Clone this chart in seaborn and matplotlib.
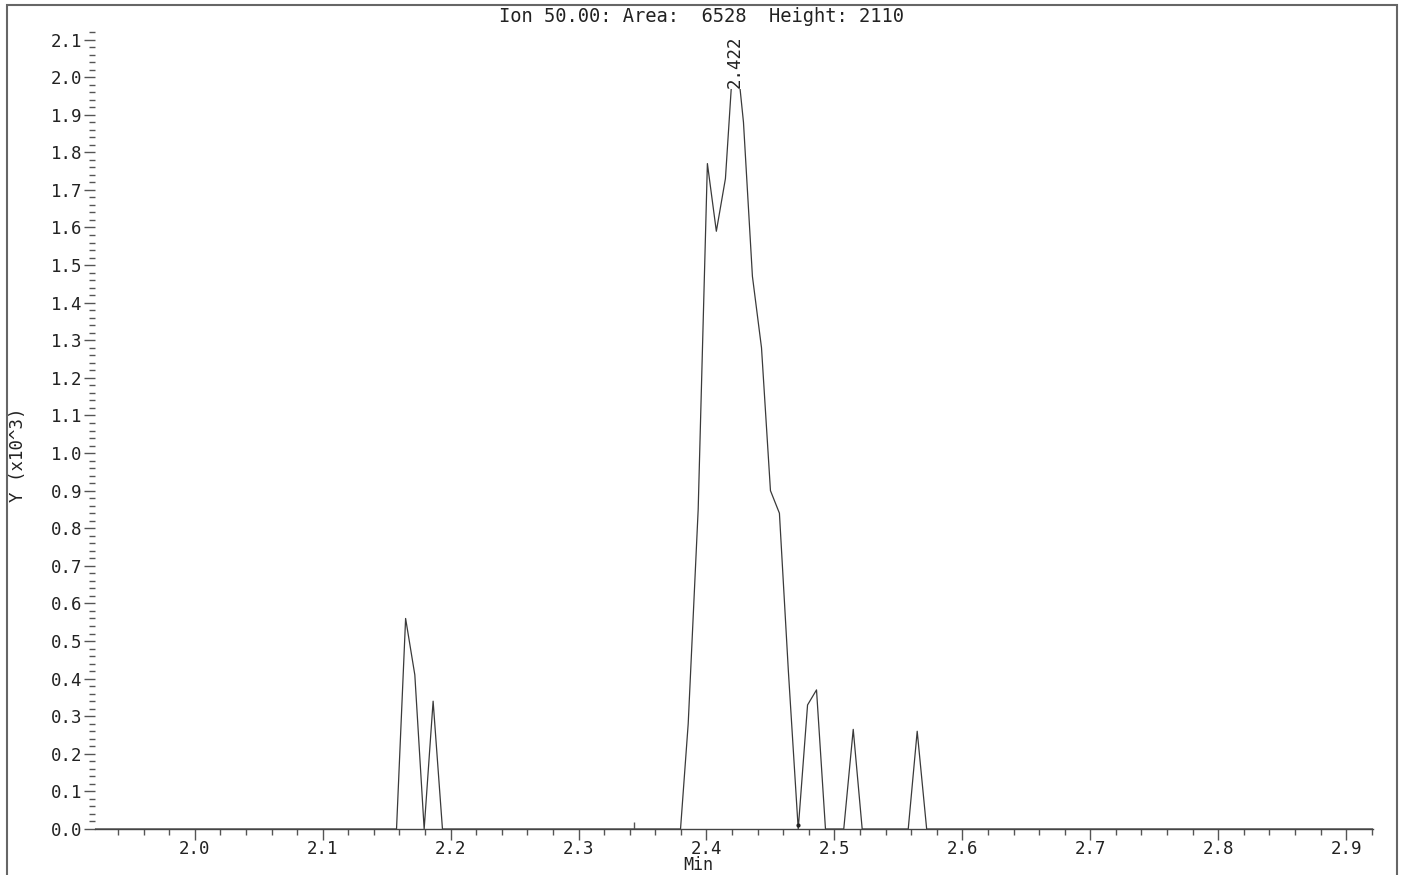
import pandas as pd
import matplotlib.pyplot as plt
import seaborn as sns
from matplotlib.ticker import MultipleLocator, FormatStrFormatter
from matplotlib.patches import Rectangle

# chromatogram trace (time in min, signal in x10^3)
times = [1.922, 2.1577, 2.1648, 2.1720, 2.1793, 2.1863, 2.1936,
         2.3797, 2.3857, 2.3935, 2.4007, 2.4077, 2.4148, 2.4220,
         2.4289, 2.4359, 2.4430, 2.4500, 2.4570, 2.4640, 2.4717,
         2.4790, 2.4860, 2.4930, 2.5073, 2.5147, 2.5217,
         2.5577, 2.5647, 2.5721, 2.921]
signal = [0.0, 0.0, 0.56, 0.41, 0.0, 0.34, 0.0,
          0.0, 0.28, 0.85, 1.77, 1.59, 1.73, 2.11,
          1.88, 1.47, 1.28, 0.90, 0.84, 0.42, 0.0,
          0.33, 0.37, 0.0, 0.0, 0.265, 0.0,
          0.0, 0.26, 0.0, 0.0]

peak_rt = 2.422
peak_label = "2.422"
dot_times = [2.4253, 2.4717]
dot_values = [2.02, 0.01]
start_marks = [2.343]

title = "Ion 50.00: Area:  6528  Height: 2110"

df = pd.DataFrame({"Min": times, "Y": signal})

sns.set_theme(style="white")
plt.rcParams['font.family'] = ['DejaVu Sans Mono']

fig = plt.figure(figsize=(14.03, 8.75), dpi=100)
ax = fig.add_axes([95 / 1403, 46 / 875, 1278 / 1403, 797 / 875])

sns.lineplot(data=df, x="Min", y="Y", ax=ax, color="#3a3a3a", lw=0.9,
             sort=False, estimator=None)
ax.scatter(dot_times, dot_values, s=4, color="#222222", zorder=3)
ax.vlines(start_marks, 0, 0.018, color="#555555", lw=1)

ax.text(peak_rt, 2.04, peak_label, rotation=90, ha="center", va="center",
        fontsize=12.5, color="#222222",
        bbox=dict(facecolor="white", edgecolor="none", pad=0.5), zorder=4)

ax.set_xlim(1.922, 2.921)
ax.set_ylim(0, 2.12)
ax.xaxis.set_major_locator(MultipleLocator(0.1))
ax.xaxis.set_minor_locator(MultipleLocator(0.02))
ax.yaxis.set_major_locator(MultipleLocator(0.1))
ax.yaxis.set_minor_locator(MultipleLocator(0.02))
ax.xaxis.set_major_formatter(FormatStrFormatter("%.1f"))
ax.yaxis.set_major_formatter(FormatStrFormatter("%.1f"))

ax.tick_params(axis="both", which="both", direction="out", colors="#555555",
               labelcolor="#222222", labelsize=12.5, width=1)
ax.tick_params(axis="x", which="major", length=8, pad=0, bottom=True)
ax.tick_params(axis="x", which="minor", length=4, bottom=True)
ax.tick_params(axis="y", which="major", length=8, pad=1, left=True)
ax.tick_params(axis="y", which="minor", length=4, left=True)

for side in ["top", "right", "left"]:
    ax.spines[side].set_visible(False)
ax.spines["bottom"].set_color("#444444")
ax.spines["bottom"].set_linewidth(1)
ax.set_xlabel("")
ax.set_ylabel("")

fig.text(0.5, 1 - 17 / 875, title, ha="center", va="center", fontsize=13.5,
         color="#222222")
fig.text(698 / 1403, 0.001, "Min", ha="center", va="bottom", fontsize=12,
         color="#222222")
fig.text(18 / 1403, 1 - 455 / 875, "Y (x10^3)", rotation=90, ha="center",
         va="center", fontsize=12.5, color="#222222")

fig.patches.append(Rectangle((7 / 1403, -0.02), 1390 / 1403, 1 - 5 / 875 + 0.02,
                             transform=fig.transFigure, fill=False,
                             edgecolor="#666666", lw=1.5))

fig.savefig("out.png", dpi=100)
